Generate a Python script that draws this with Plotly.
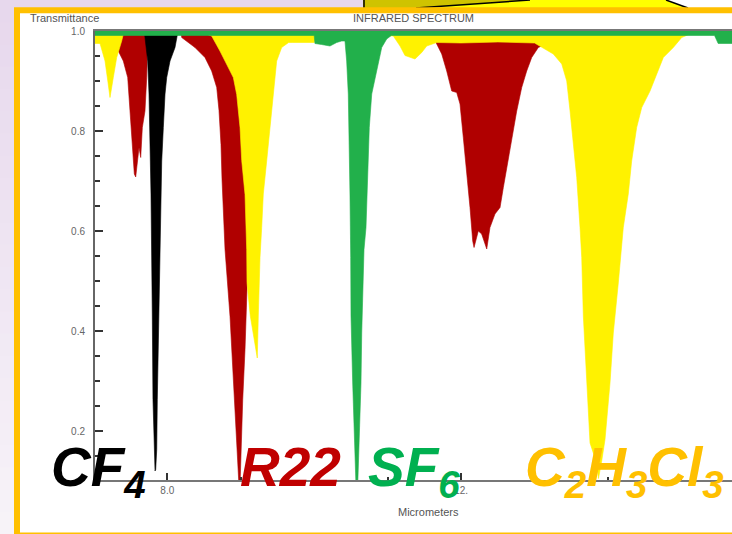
import plotly.graph_objects as go

# ---------------- data (wavelength in micrometers, transmittance) ----------------
c2h3cl3_um = [7.0, 7.0, 7.084, 7.152, 7.19, 7.22, 7.265, 7.311, 7.379, 7.40, 8.55, 8.604, 8.717, 8.809,
              8.899, 8.945, 8.990, 9.013, 9.058, 9.081, 9.085, 9.13, 9.171, 9.225, 9.239, 9.253,
              9.262, 9.285, 9.307, 9.353, 9.398, 9.443, 9.489, 9.557, 9.652, 9.70, 10.0, 10.05,
              11.077, 11.168, 11.236, 11.372, 11.464, 11.532, 11.668, 12.0, 12.5, 13.0, 13.074,
              13.255, 13.370, 13.438, 13.483, 13.528, 13.574, 13.619, 13.642, 13.664, 13.710,
              13.755, 13.843, 13.87, 13.911, 13.959, 14.027, 14.072, 14.14, 14.17, 14.208, 14.276,
              14.322, 14.39, 14.459, 14.572, 14.663, 14.753, 14.889, 15.003, 15.1, 15.7, 15.7]
c2h3cl3_T = [1.0, 0.975, 0.975, 0.940, 0.900, 0.867, 0.907, 0.947, 0.980, 0.993, 0.993, 0.990, 0.960, 0.934,
             0.907, 0.873, 0.807, 0.741, 0.673, 0.563, 0.497, 0.430, 0.396, 0.346, 0.430, 0.496,
             0.547, 0.607, 0.674, 0.740, 0.807, 0.874, 0.940, 0.967, 0.977, 0.977, 0.977, 0.993,
             0.990, 0.970, 0.951, 0.944, 0.957, 0.970, 0.977, 0.976, 0.978, 0.976, 0.970,
             0.954, 0.934, 0.900, 0.840, 0.774, 0.707, 0.607, 0.547, 0.430, 0.296,
             0.176, 0.137, 0.105, 0.137, 0.183, 0.296, 0.396, 0.496, 0.550, 0.607, 0.674,
             0.740, 0.807, 0.847, 0.880, 0.914, 0.947, 0.967, 0.987, 0.993, 0.993, 1.0]

r22_um = [7.0, 7.0, 7.33, 7.335, 7.333, 7.401, 7.461, 7.492, 7.523, 7.551, 7.570, 7.592, 7.615, 7.638,
          7.660, 7.696, 7.720, 7.733, 7.74, 8.19, 8.196, 8.377, 8.513, 8.604, 8.673, 8.704, 8.731,
          8.745, 8.786, 8.854, 8.899, 8.945, 8.976, 8.990, 9.003, 9.027, 9.058, 9.075, 9.10, 9.15,
          9.25, 9.35, 11.6, 11.668, 11.736, 11.804, 11.872, 11.940, 11.985, 12.030, 12.076,
          12.121, 12.158, 12.176, 12.234, 12.280, 12.349, 12.393, 12.461, 12.530, 12.575,
          12.621, 12.689, 12.757, 12.825, 12.893, 12.961, 13.051, 13.097, 13.15, 15.7, 15.7]
r22_T = [1.0, 0.995, 0.995, 0.990, 0.960, 0.940, 0.907, 0.840, 0.774, 0.714, 0.708, 0.740, 0.767, 0.747,
         0.807, 0.840, 0.907, 0.987, 0.995, 0.995, 0.987, 0.967, 0.947, 0.920, 0.887, 0.841, 0.773,
         0.703, 0.563, 0.429, 0.297, 0.163, 0.090, 0.090, 0.163, 0.263, 0.363, 0.450, 0.550, 0.700,
         0.900, 0.995, 0.995, 0.974, 0.954, 0.920, 0.880, 0.877, 0.854, 0.787, 0.720,
         0.647, 0.580, 0.567, 0.600, 0.594, 0.564, 0.607, 0.634, 0.647, 0.687,
         0.727, 0.787, 0.840, 0.887, 0.920, 0.947, 0.967, 0.970, 0.995, 0.995, 1.0]

cf4_um = [7.0, 7.0, 7.69, 7.696, 7.733, 7.751, 7.764, 7.769, 7.778, 7.792, 7.796, 7.805, 7.819, 7.833,
          7.842, 7.856, 7.864, 7.877, 7.901, 7.901, 7.914, 7.924, 7.946, 7.969, 7.992, 8.037,
          8.105, 8.128, 8.14, 15.7, 15.7]
cf4_T = [1.0, 0.995, 0.995, 0.987, 0.940, 0.874, 0.807, 0.740, 0.674, 0.547, 0.430, 0.263, 0.163, 0.120,
         0.123, 0.163, 0.263, 0.363, 0.563, 0.607, 0.674, 0.740, 0.807, 0.874, 0.907, 0.940,
         0.967, 0.987, 0.995, 0.995, 1.0]

sf6_um = [7.0, 7.0, 10.0, 10.01, 10.1, 10.215, 10.306, 10.374, 10.419, 10.442, 10.464, 10.478,
          10.487, 10.497, 10.501, 10.524, 10.542, 10.569, 10.592, 10.614, 10.637, 10.647, 10.660,
          10.678, 10.705, 10.723, 10.737, 10.750, 10.783, 10.828, 10.873, 10.919, 10.987, 11.05,
          15.45, 15.5, 15.7, 15.7]
sf6_T = [1.0, 0.991, 0.991, 0.975, 0.973, 0.970, 0.977, 0.980, 0.980, 0.940, 0.874, 0.774,
         0.674, 0.547, 0.430, 0.296, 0.196, 0.090, 0.090, 0.196, 0.296, 0.396, 0.496,
         0.563, 0.607, 0.674, 0.740, 0.807, 0.874, 0.907, 0.940, 0.967, 0.984, 0.991,
         0.991, 0.975, 0.975, 1.0]

y_tick_vals = [0.2, 0.4, 0.6, 0.8, 1.0]
y_tick_text = ["0.2", "0.4", "0.6", "0.8", "1.0"]
y_minor_vals = [0.15, 0.25, 0.3, 0.35, 0.45, 0.5, 0.55, 0.65, 0.7, 0.75, 0.85, 0.9, 0.95]
x_tick_vals = [8, 12]
x_tick_text = ["8.0", "12."]
x_minor_vals = [9, 10, 11, 13, 14, 15]

gas_labels = ["CF<sub>4</sub>", "R22", "SF<sub>6</sub>",
              "C<sub>2</sub>H<sub>3</sub>Cl<sub>3</sub>"]
gas_label_colors = ["#000000", "#C00000", "#00B050", "#FFC000"]

# ---------------- layout helpers (pixel -> paper) ----------------
W, H = 732, 534
L, R, T, B = 95, 0, 31, 54
PW, PH = W - L - R, H - T - B


def fx(px):
    return (px - L) / PW


def fy(py):
    return (H - B - py) / PH


fig = go.Figure()

series = [
    (r22_um, r22_T, "#B00000", "R22"),
    (c2h3cl3_um, c2h3cl3_T, "#FFF200", "C2H3Cl3"),
    (cf4_um, cf4_T, "#000000", "CF4"),
    (sf6_um, sf6_T, "#22B04B", "SF6"),
]
for xs, ys, col, name in series:
    fig.add_trace(go.Scatter(x=xs, y=ys, mode="lines", fill="toself", fillcolor=col,
                             line=dict(color=col, width=0.6), name=name,
                             hoverinfo="skip", showlegend=False))

shapes = []
# lavender background gradient bands
n = 24
c0 = (231, 216, 237)
c1 = (247, 243, 248)
for i in range(n):
    t = i / (n - 1)
    c = tuple(round(c0[k] + (c1[k] - c0[k]) * t) for k in range(3))
    shapes.append(dict(type="rect", xref="paper", yref="paper", layer="below",
                       x0=fx(0), x1=fx(W), y0=fy(H * (i + 1) / n + 1), y1=fy(H * i / n),
                       fillcolor="rgb(%d,%d,%d)" % c, line=dict(width=0)))
# yellow callout at the top
shapes.append(dict(type="path", xref="paper", yref="paper", layer="below",
                   path="M %f,%f L %f,%f L %f,%f L %f,%f Z" % (fx(363), fy(0), fx(530), fy(0),
                                                              fx(416), fy(8), fx(363), fy(8)),
                   fillcolor="#CFC300", line=dict(width=0)))
shapes.append(dict(type="path", xref="paper", yref="paper", layer="below",
                   path="M %f,%f L %f,%f L %f,%f L %f,%f Z" % (fx(416), fy(8), fx(530), fy(0),
                                                              fx(666), fy(0), fx(688), fy(8)),
                   fillcolor="#FFFF00", line=dict(width=0)))
shapes.append(dict(type="path", xref="paper", yref="paper", layer="below",
                   path="M %f,%f L %f,%f L %f,%f L %f,%f Z" % (fx(688), fy(8), fx(666), fy(0),
                                                              fx(732), fy(0), fx(732), fy(8)),
                   fillcolor="#FFFFFF", line=dict(width=0)))
for (a, b, c, d) in [(416, 8, 530, 0), (666, 0, 688, 8), (364, 0, 364, 8)]:
    shapes.append(dict(type="line", xref="paper", yref="paper", layer="below",
                       x0=fx(a), y0=fy(b), x1=fx(c), y1=fy(d),
                       line=dict(color="#000000", width=1.5)))
# orange frame with white inside
shapes.append(dict(type="rect", xref="paper", yref="paper", layer="below",
                   x0=fx(17), x1=fx(765), y0=fy(535.5), y1=fy(10.3),
                   fillcolor="#FFFFFF", line=dict(color="#FFC000", width=6)))

annotations = []
txt_font = dict(family="Liberation Sans, Arial, sans-serif", color="#555555")
annotations.append(dict(xref="paper", yref="paper", x=fx(28), y=fy(18), xanchor="left",
                        yanchor="middle", text="Transmittance", showarrow=False,
                        font=dict(size=11, **txt_font)))
annotations.append(dict(xref="paper", yref="paper", x=fx(414), y=fy(18), xanchor="center",
                        yanchor="middle", text="INFRARED SPECTRUM", showarrow=False,
                        font=dict(size=11, **txt_font)))
annotations.append(dict(xref="paper", yref="paper", x=fx(428), y=fy(512), xanchor="center",
                        yanchor="middle", text="Micrometers", showarrow=False,
                        font=dict(size=11, **txt_font)))
label_left_px = [49, 238, 366, 523]
for txt, col, lx in zip(gas_labels, gas_label_colors, label_left_px):
    annotations.append(dict(xref="paper", yref="paper", x=fx(lx), y=fy(434), xanchor="left",
                            yanchor="top", text="<b><i>%s</i></b>" % txt, showarrow=False,
                            font=dict(family="Liberation Sans, Arial, sans-serif",
                                      size=55, color=col)))

fig.update_layout(
    width=W, height=H,
    margin=dict(l=L, r=R, t=T, b=B, pad=0),
    paper_bgcolor="#EDE3F0",
    plot_bgcolor="rgba(0,0,0,0)",
    shapes=shapes,
    annotations=annotations,
    showlegend=False,
    xaxis=dict(range=[7.0157, 15.688], showgrid=False, zeroline=False,
               showline=True, linecolor="#777777", linewidth=2, mirror=True,
               tickmode="array", tickvals=x_tick_vals, ticktext=x_tick_text,
               ticks="inside", ticklen=7, tickwidth=1.5, tickcolor="#333333",
               tickfont=dict(family="Liberation Sans, Arial, sans-serif", size=10,
                             color="#666666"),
               minor=dict(tickvals=x_minor_vals, ticks="inside", ticklen=3,
                          tickwidth=1.5, tickcolor="#333333")),
    yaxis=dict(range=[0.102, 1.0], showgrid=False, zeroline=False,
               showline=True, linecolor="#666666", linewidth=2,
               tickmode="array", tickvals=y_tick_vals, ticktext=y_tick_text,
               ticks="inside", ticklen=8, tickwidth=2, tickcolor="#333333",
               ticklabelstandoff=6,
               tickfont=dict(family="Liberation Sans, Arial, sans-serif", size=10,
                             color="#666666"),
               minor=dict(tickvals=y_minor_vals, ticks="inside", ticklen=5,
                          tickwidth=2, tickcolor="#333333")),
)

fig.write_html("out.html",
               config={"displayModeBar": False},
               post_script="document.body.style.margin='0px';"
                           "document.documentElement.style.overflow='hidden';")
